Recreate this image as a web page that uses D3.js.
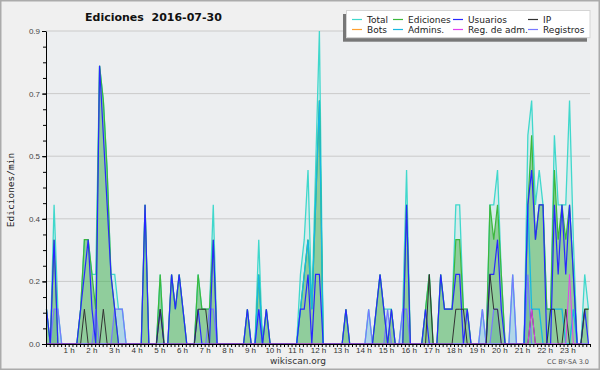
<!DOCTYPE html>
<html>
<head>
<meta charset="utf-8">
<script src="https://cdn.jsdelivr.net/npm/d3@7"></script>
<style>
  body { margin: 0; background: #f0f0f0; }
  svg { display: block; font-family: "DejaVu Sans", sans-serif; }
</style>
</head>
<body>
<svg id="chart"></svg>
<script>
// edits per minute, one value every 10 minutes (6 per row = 1 hour)
let total = [
  0.1,0,0.4,0.1,0,0,  0,0,0,0.1,0.3,0.3,  0.2,0.2,0.8,0.7,0.5,0.2,  0.2,0.1,0.1,0,0,0,
  0,0,0.4,0,0,0,  0.2,0,0,0.2,0.1,0.2,  0.1,0,0,0,0.2,0.1,  0.1,0.1,0.4,0,0,0,
  0,0,0,0,0,0.1,  0,0,0.3,0,0.1,0,  0,0,0,0,0,0,  0,0.2,0.3,0.5,0.1,0.5,
  0.9,0,0,0,0,0,  0,0.1,0,0,0,0,  0,0.1,0,0.1,0.2,0.1,  0.1,0.1,0,0,0.1,0.5,
  0,0,0,0,0.1,0.2,  0,0,0.2,0.1,0.1,0.1,  0.4,0.4,0.1,0.1,0,0,  0,0.1,0,0.4,0.4,0.5,
  0.2,0,0,0.2,0,0,  0,0.6,0.7,0.4,0.5,0.4,  0.1,0.1,0.6,0.4,0.4,0.4,  0.7,0.3,0,0,0.2,0.1
]
let ediciones = [
  0.1,0,0.3,0,0,0,  0,0,0,0.1,0.3,0.3,  0.2,0.1,0.8,0.7,0.5,0.2,  0.1,0,0,0,0,0,
  0,0,0.4,0,0,0,  0.2,0,0,0.2,0.1,0.2,  0.1,0,0,0,0.2,0.1,  0.1,0.1,0.3,0,0,0,
  0,0,0,0,0,0.1,  0,0,0.2,0,0.1,0,  0,0,0,0,0,0,  0,0.1,0.2,0.3,0.1,0.4,
  0.7,0,0,0,0,0,  0,0.1,0,0,0,0,  0,0,0,0.1,0.2,0.1,  0,0.1,0,0,0,0.4,
  0,0,0,0,0.1,0.2,  0,0,0.2,0.1,0.1,0.1,  0.3,0.3,0.1,0.1,0,0,  0,0,0,0.4,0.3,0.4,
  0.2,0,0,0,0,0,  0,0.4,0.6,0.3,0.4,0.4,  0.1,0.1,0.5,0.3,0.4,0.3,  0.4,0.2,0,0,0.1,0.1
]
let usuarios = [
  0.1,0,0.3,0,0,0,  0,0,0,0.1,0.2,0.3,  0.1,0,0.8,0.6,0.4,0.2,  0.1,0,0,0,0,0,
  0,0,0.4,0,0,0,  0.1,0,0,0.2,0.1,0.2,  0.1,0,0,0,0.1,0,  0,0,0.3,0,0,0,
  0,0,0,0,0,0.1,  0,0,0.1,0,0.1,0,  0,0,0,0,0,0,  0,0.1,0.1,0.2,0,0.2,
  0.2,0,0,0,0,0,  0,0.1,0,0,0,0,  0,0,0,0.1,0.2,0.1,  0,0.1,0,0,0,0.4,
  0,0,0,0,0.1,0,  0,0,0.2,0.1,0.1,0.1,  0.2,0.2,0,0.1,0,0,  0,0,0,0.2,0.2,0.3,
  0.1,0,0,0,0,0,  0,0.4,0.5,0.3,0.4,0.4,  0,0,0.4,0.2,0.4,0.2,  0.4,0.2,0,0,0.1,0
]
let ip = [
  0,0,0,0,0,0,  0,0,0,0,0.1,0,  0,0,0,0.1,0,0,  0,0,0,0,0,0,
  0,0,0,0,0,0,  0.1,0,0,0,0,0,  0,0,0,0,0.1,0.1,  0.1,0,0,0,0,0,
  0,0,0,0,0,0,  0,0,0,0,0,0,  0,0,0,0,0,0,  0,0,0,0,0,0,
  0,0,0,0,0,0,  0,0,0,0,0,0,  0,0,0,0,0,0,  0,0,0,0,0,0,
  0,0,0,0,0,0.2,  0,0,0,0,0,0,  0.1,0.1,0.1,0,0,0,  0,0,0,0.2,0.1,0.1,
  0,0,0,0,0,0,  0,0,0.1,0,0,0,  0,0.1,0.1,0,0,0.1,  0,0,0,0,0.1,0.1
]
let registros = [
  0,0,0.1,0.1,0,0,  0,0,0,0,0,0,  0,0.1,0,0,0,0,  0.1,0.1,0.1,0,0,0,
  0,0,0,0,0,0,  0,0,0,0,0,0,  0,0,0,0,0,0,  0,0.1,0.1,0,0,0,
  0,0,0,0,0,0,  0,0,0.1,0,0,0,  0,0,0,0,0,0,  0,0,0,0,0,0,
  0,0,0,0,0,0,  0,0,0,0,0,0,  0,0.1,0,0,0,0,  0.1,0,0,0,0.1,0.1,
  0,0,0,0,0,0,  0,0,0,0,0,0,  0,0,0,0,0,0,  0,0.1,0,0,0.1,0.1,
  0,0,0,0.2,0,0,  0,0.2,0,0,0,0,  0,0,0,0,0,0,  0,0,0,0,0,0
]
let admins = [
  0,0,0,0,0,0,  0,0,0,0,0,0,  0,0,0,0,0,0,  0,0,0,0,0,0,
  0,0,0,0,0,0,  0,0,0,0,0,0,  0,0,0,0,0,0,  0,0,0,0,0,0,
  0,0,0,0,0,0,  0,0,0.2,0,0,0,  0,0,0,0,0,0,  0,0.1,0.2,0.3,0.1,0.4,
  0.7,0,0,0,0,0,  0,0,0,0,0,0,  0,0,0,0,0,0,  0,0,0,0,0,0,
  0,0,0,0,0,0,  0,0,0,0,0,0,  0,0,0,0,0,0,  0,0,0,0,0,0,
  0,0,0,0,0,0,  0,0.4,0.1,0.1,0.1,0,  0,0.1,0.1,0.1,0.1,0,  0,0.1,0,0,0,0
]
let regAdm = [
  0,0,0,0,0,0,  0,0,0,0,0,0,  0,0,0,0,0,0,  0,0,0,0,0,0,
  0,0,0,0,0,0,  0,0,0,0,0,0,  0,0,0,0,0,0,  0,0,0,0,0,0,
  0,0,0,0,0,0,  0,0,0,0,0,0,  0,0,0,0,0,0,  0,0,0,0,0,0,
  0,0,0,0,0,0,  0,0,0,0,0,0,  0,0,0,0,0,0,  0,0,0,0,0,0,
  0,0,0,0,0,0,  0,0,0,0,0,0,  0,0,0,0,0,0,  0,0,0,0,0,0,
  0,0,0,0,0,0,  0,0,0.1,0,0,0,  0,0,0,0,0,0,  0.2,0,0,0,0,0
]

let yTicks = [0, 0.18, 0.36, 0.54, 0.72, 0.9]
let hourTicks = d3.range(1, 24)

let legendNames = ["Total", "Ediciones", "Usuarios", "IP", "Bots", "Admins.", "Reg. de adm.", "Registros"]
let legendColors = ["#40d8cc", "#3cb83c", "#2828ff", "#333333", "#ffa030", "#18b8e0", "#e040f0", "#7878ff"]

let width = 600
let height = 370

let margin = { left: 46, right: 10, top: 31, bottom: 26 }

let svg = d3.select("#chart")
    .attr("width", width)
    .attr("height", height)

svg.append("rect")
    .attr("x", 0.75).attr("y", 0.75)
    .attr("width", width - 1.5).attr("height", height - 1.5)
    .attr("fill", "#f0f0f0")
    .attr("stroke", "#ababab")
    .attr("stroke-width", 1.5)

let hourScale = d3.scaleLinear()
    .domain([0, 24])
    .range([margin.left, width - margin.right])

// points sit a bit inside the hour axis
let xScale = d3.scaleLinear()
    .domain([0, 143])
    .range([46.5, 588.5])

let yScale = d3.scaleLinear()
    .domain([0, 0.9])
    .range([height - margin.bottom, margin.top])

svg.append("rect")
    .attr("x", margin.left).attr("y", margin.top)
    .attr("width", width - margin.left - margin.right)
    .attr("height", height - margin.top - margin.bottom)
    .attr("fill", "#eceef0")

svg.append("g")
    .selectAll("line")
    .data(yTicks.slice(1))
    .enter()
    .append("line")
    .attr("x1", margin.left)
    .attr("x2", width - margin.right)
    .attr("y1", d => yScale(d))
    .attr("y2", d => yScale(d))
    .attr("stroke", "#cacaca")
    .attr("stroke-width", 1)

let area = d3.area()
    .x((d, i) => xScale(i))
    .y0(yScale(0))
    .y1(d => yScale(d))

let line = d3.line()
    .x((d, i) => xScale(i))
    .y(d => yScale(d))

svg.append("path").attr("d", area(total)).attr("fill", "#40e0d0").attr("fill-opacity", 0.13)
svg.append("path").attr("d", area(registros)).attr("fill", "#8cc0e4").attr("fill-opacity", 0.5)
svg.append("path").attr("d", area(ediciones)).attr("fill", "#3ca83c").attr("fill-opacity", 0.45)

let series = [
    { values: total, color: legendColors[0], w: 1.3 },
    { values: ediciones, color: legendColors[1], w: 1.2 },
    { values: registros, color: legendColors[7], w: 1.2 },
    { values: admins, color: legendColors[5], w: 1.3 },
    { values: usuarios, color: legendColors[2], w: 1.2 },
    { values: ip, color: legendColors[3], w: 1 },
    { values: regAdm, color: legendColors[6], w: 1 }
]

svg.append("g")
    .selectAll("path")
    .data(series)
    .enter()
    .append("path")
    .attr("d", d => line(d.values))
    .attr("fill", "none")
    .attr("stroke", d => d.color)
    .attr("stroke-width", d => d.w)
    .attr("stroke-linejoin", "miter")

// axes
let minorY = svg.append("g")
    .attr("transform", "translate(" + margin.left + ",0)")
    .call(d3.axisLeft(yScale).tickValues(d3.range(0, 0.91, 0.045)).tickSize(3).tickFormat(""))
minorY.select(".domain").remove()

let yAxis = svg.append("g")
    .attr("transform", "translate(" + margin.left + ",0)")
    .call(d3.axisLeft(yScale).tickValues(yTicks).tickSize(4).tickSizeOuter(0).tickPadding(2).tickFormat(d3.format(".1f")))
yAxis.selectAll("text").attr("fill", "#444").style("font-size", "8px")

let minorX = svg.append("g")
    .attr("transform", "translate(0," + (height - margin.bottom) + ")")
    .call(d3.axisBottom(hourScale).tickValues(d3.range(0, 24.01, 1 / 6)).tickSize(3).tickFormat(""))
minorX.select(".domain").remove()

let xAxis = svg.append("g")
    .attr("transform", "translate(0," + (height - margin.bottom) + ")")
    .call(d3.axisBottom(hourScale).tickValues(hourTicks).tickSize(0).tickSizeOuter(0).tickPadding(3).tickFormat(d => d + " h"))
xAxis.selectAll("text").attr("fill", "#333").style("font-size", "8px")

svg.selectAll(".domain").attr("stroke", "#000")

// texts
svg.append("text")
    .attr("x", 85)
    .attr("y", 21)
    .style("font-size", "11px")
    .style("font-weight", "bold")
    .style("white-space", "pre")
    .attr("fill", "#111")
    .text("Ediciones  2016-07-30")

svg.append("text")
    .attr("transform", "translate(14,190)rotate(-90)")
    .attr("text-anchor", "middle")
    .style("font-family", "'DejaVu Sans Mono', monospace")
    .style("font-size", "9.5px")
    .attr("fill", "#222")
    .text("Ediciones/min")

svg.append("text")
    .attr("x", 298)
    .attr("y", 364)
    .attr("text-anchor", "middle")
    .style("font-size", "9px")
    .attr("fill", "#333")
    .text("wikiscan.org")

svg.append("text")
    .attr("x", 589)
    .attr("y", 364)
    .attr("text-anchor", "end")
    .style("font-size", "6.5px")
    .attr("fill", "#555")
    .text("CC BY-SA 3.0")

// legend box with shadow
svg.append("rect")
    .attr("x", 343).attr("y", 14)
    .attr("width", 244).attr("height", 27.7)
    .attr("fill", "#777")

svg.append("rect")
    .attr("x", 346.5).attr("y", 10.5)
    .attr("width", 243.5).attr("height", 27.2)
    .attr("fill", "#fff")
    .attr("stroke", "#d4d4d4")

let legendCols = [352, 393, 453, 528]

let legend = svg.append("g")
    .selectAll("g")
    .data(legendNames)
    .enter()
    .append("g")
    .attr("transform", (d, i) => "translate(" + legendCols[i % 4] + "," + (19.5 + Math.floor(i / 4) * 10) + ")")

legend.append("line")
    .attr("x1", 0).attr("x2", 10)
    .attr("stroke", (d, i) => legendColors[i])
    .attr("stroke-width", 1.2)

legend.append("text")
    .attr("x", 15)
    .attr("y", 3.5)
    .style("font-size", "9px")
    .attr("fill", "#222")
    .text(d => d)
</script>
</body>
</html>
